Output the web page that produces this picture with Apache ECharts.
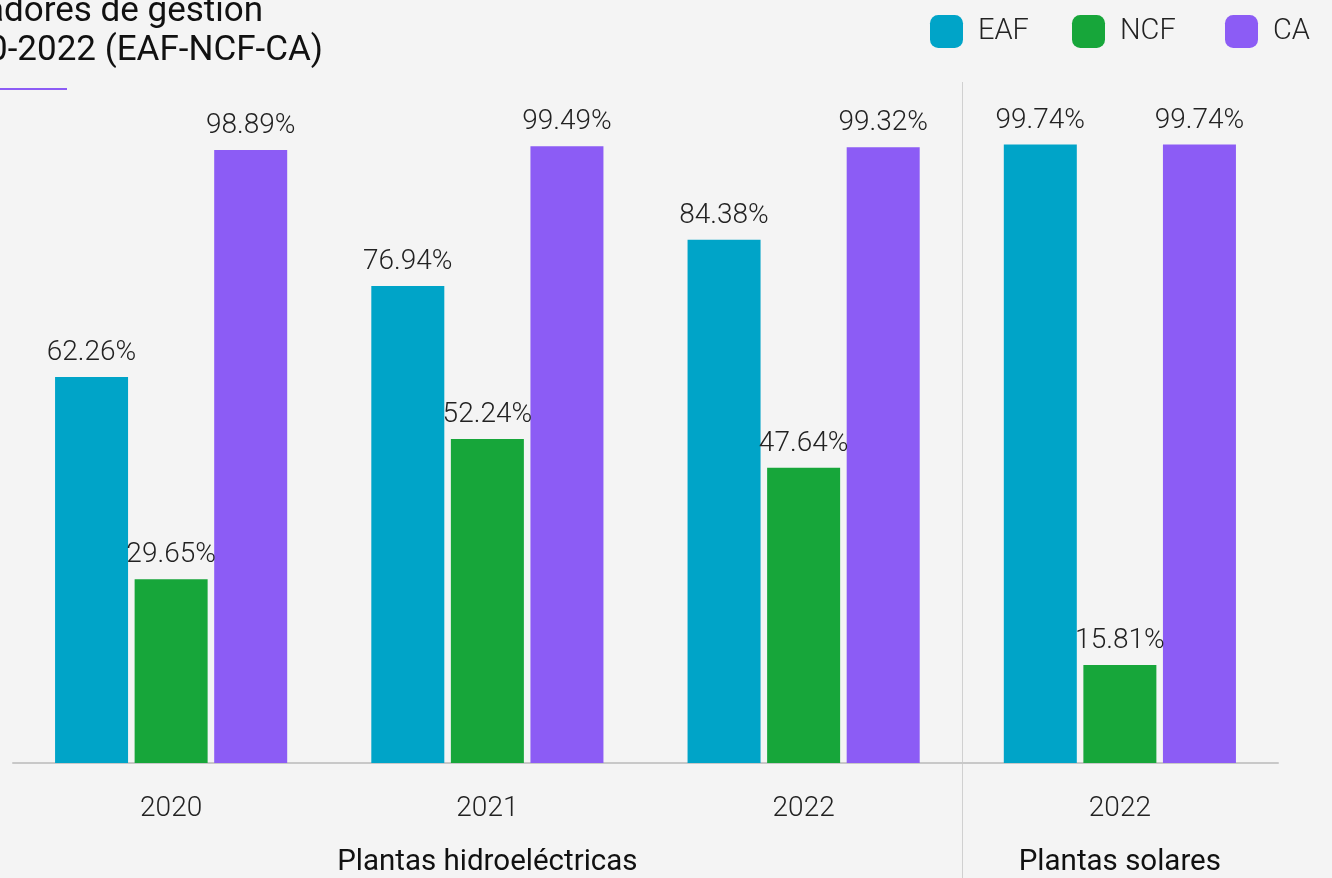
<!DOCTYPE html>
<html>
<head>
<meta charset="utf-8">
<title>Indicadores de gestión 2020-2022 (EAF-NCF-CA)</title>
<script src="https://cdn.jsdelivr.net/npm/echarts@6/dist/echarts.min.js"></script>
<style>
  html, body { margin: 0; padding: 0; background: #f4f4f4; }
  #chart { width: 1332px; height: 878px; }
</style>
</head>
<body>
<div id="chart"></div>
<script>
// Years shown under each bar group
const categories = ['2020', '2021', '2022', '2022'];
// Plant type captions, placed under the middle of their year groups
const plantGroups = ['', 'Plantas hidroeléctricas', '', 'Plantas solares'];
// Indicator values (%)
const eafValues = [62.26, 76.94, 84.38, 99.74];
const ncfValues = [29.65, 52.24, 47.64, 15.81];
const caValues = [98.89, 99.49, 99.32, 99.74];

const titleLines = ['Indicadores de gestión', '2020-2022 (EAF-NCF-CA)'];

const COLORS = { EAF: '#00a4c8', NCF: '#17a63a', CA: '#8c5cf5' };
const FONT = 'Roboto, "Liberation Sans", sans-serif';

const chart = echarts.init(document.getElementById('chart'));

function barSeries(name, values) {
  return {
    name: name,
    type: 'bar',
    data: values,
    barWidth: 73,
    barGap: '9%',
    itemStyle: { color: COLORS[name] },
    label: {
      show: true,
      position: 'top',
      distance: 10,
      color: '#222',
      fontFamily: FONT,
      fontWeight: 300,
      fontSize: 28,
      formatter: p => p.value.toFixed(2) + '%'
    }
  };
}

function legendFor(name, left) {
  return {
    data: [name],
    left: left,
    top: 10,
    itemWidth: 33,
    itemHeight: 33,
    icon: 'roundRect',
    selectedMode: false,
    textStyle: {
      color: '#222',
      fontFamily: FONT,
      fontWeight: 300,
      fontSize: 29,
      padding: [0, 0, 0, 10]
    }
  };
}

chart.setOption({
  backgroundColor: '#f4f4f4',
  animation: false,
  legend: [legendFor('EAF', 925), legendFor('NCF', 1067), legendFor('CA', 1220)],
  grid: { left: 13, right: 54, top: 143, bottom: 115, containLabel: false },
  xAxis: [
    {
      type: 'category',
      data: categories,
      axisLine: { show: true, lineStyle: { color: '#c8c8c8', width: 2 } },
      axisTick: { show: false },
      axisLabel: {
        interval: 0,
        margin: 32,
        color: '#222',
        fontFamily: FONT,
        fontWeight: 300,
        fontSize: 28
      }
    },
    {
      type: 'category',
      position: 'bottom',
      data: plantGroups,
      axisLine: { show: false },
      axisTick: { show: false },
      axisLabel: {
        interval: 0,
        margin: 85,
        color: '#111',
        fontFamily: FONT,
        fontSize: 29.5
      }
    }
  ],
  yAxis: {
    type: 'value',
    min: 0,
    max: 100,
    show: false,
    splitLine: { show: false }
  },
  series: [
    barSeries('EAF', eafValues),
    barSeries('NCF', ncfValues),
    barSeries('CA', caValues)
  ]
});

// Divider between the hydro and solar groups, at the boundary between the
// third and fourth categories.
const c2 = chart.convertToPixel({ xAxisIndex: 0 }, categories.length - 2);
const c3 = chart.convertToPixel({ xAxisIndex: 0 }, categories.length - 1);
const dividerX = Math.round((c2 + c3) / 2) + 0.5;

chart.setOption({
  graphic: [
    {
      type: 'line',
      shape: { x1: dividerX, y1: 82, x2: dividerX, y2: 878 },
      style: { stroke: '#d0d0d0', lineWidth: 1 }
    },
    {
      type: 'text',
      x: 263,
      y: 12,
      style: {
        text: titleLines[0],
        align: 'right',
        verticalAlign: 'middle',
        fill: '#111',
        fontFamily: FONT,
        fontSize: 35
      }
    },
    {
      type: 'text',
      x: 323,
      y: 51,
      style: {
        text: titleLines[1],
        align: 'right',
        verticalAlign: 'middle',
        fill: '#111',
        fontFamily: FONT,
        fontSize: 35
      }
    },
    {
      type: 'rect',
      shape: { x: 0, y: 88, width: 67, height: 2 },
      style: { fill: '#8c5cf5' }
    }
  ]
});
</script>
</body>
</html>
